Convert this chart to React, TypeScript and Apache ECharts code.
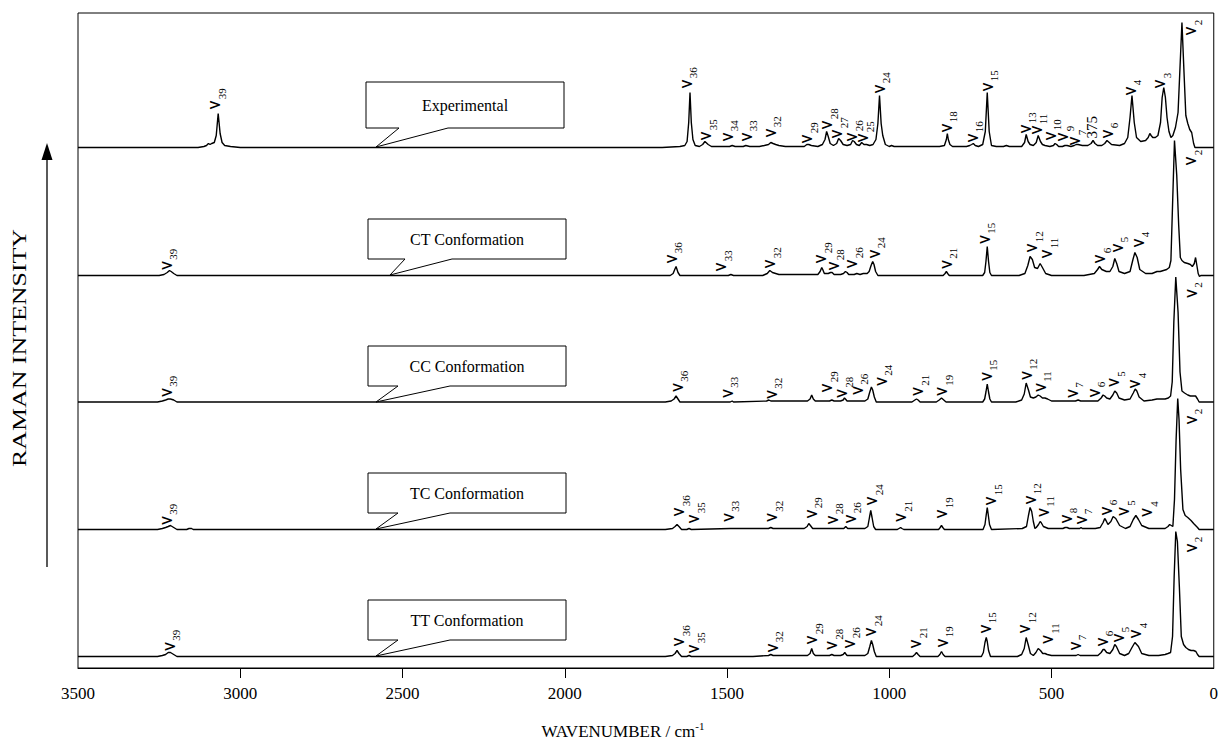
import React, { useEffect, useRef } from 'react';
import * as echarts from 'echarts';

// ---------- axis ----------
const WN_MIN = 0;
const WN_MAX = 3500;
const WN_STEP = 500;
const INNER_TICKS = [500, 1000, 1500, 2000, 2500, 3000];

// ---------- spectra names & vertical offsets (stack) ----------
const SPECTRUM_NAMES = ['Experimental', 'CT Conformation', 'CC Conformation', 'TC Conformation', 'TT Conformation'];
const SPECTRUM_OFFSETS = [520.5, 392.5, 266, 138.5, 11.5];

// ---------- spectra: [wavenumber, intensity] ----------
const EXPERIMENTAL: number[][] = [
  [0,0],[58,0],[62,4],[68,15],[74,18],[80,24],[86,32],[91,70],[98,125],[104,80],[110,35],[118,20],[126,12],[132,10],[138,16],[144,30],[149,50],[154,60],[159,50],[164,25],[172,12],[180,10],[188,10],[193,12],[197,14],[202,10],[210,7],[225,6],[238,10],[245,25],[252,52],[258,30],[265,10],[275,4],[290,2],[315,3],[322,5],[329,7],[336,4],[345,2],[358,2],[366,4],[372,7],[378,4],[388,2],[405,2],[418,3],[424,3],[430,2],[440,1],[452,2],[459,2],[466,1],[478,1],[484,3],[489,4],[494,2],[505,1],[520,2],[528,3],[534,6],[541,12],[547,5],[556,2],[566,3],[572,6],[578,13],[583,5],[592,1],[610,1],[630,1],[639,2],[648,1],[670,1],[685,2],[692,16],[698,55],[704,16],[712,3],[725,1],[735,2],[741,4],[746,3],[752,2],[762,1],[805,1],[813,3],[818,8],[821,14],[824,8],[830,2],[845,1],[900,1],[985,1],[993,2],[1000,1],[1012,3],[1020,12],[1025,24],[1030,52],[1035,24],[1041,8],[1050,3],[1060,2],[1070,3],[1078,3],[1085,5],[1092,2],[1101,3],[1108,6],[1113,7],[1119,3],[1130,2],[1142,3],[1150,7],[1156,9],[1162,4],[1172,2],[1182,4],[1188,11],[1193,16],[1198,8],[1206,3],[1220,1],[1240,2],[1248,3],[1254,3],[1262,1],[1290,1],[1320,1],[1340,2],[1350,3],[1358,4],[1365,5],[1372,3],[1385,2],[1400,1],[1430,1],[1442,2],[1450,1],[1475,1],[1484,2],[1492,1],[1530,1],[1548,1],[1558,3],[1568,6],[1575,3],[1585,1],[1598,2],[1605,8],[1610,25],[1614,55],[1618,25],[1623,6],[1630,2],[1645,1],[1700,0],[3000,0],[3030,1],[3048,2],[3056,5],[3062,14],[3068,34],[3074,12],[3080,5],[3088,4],[3093,3],[3098,4],[3104,2],[3112,1],[3130,0],[3500,0]
];

const CT_CONF: number[][] = [
  [0,0],[40,0],[44,-1],[48,2],[52,10],[56,18],[60,12],[66,9],[72,11],[80,12],[91,13],[98,15],[103,18],[108,50],[114,100],[121,135],[127,70],[132,15],[137,8],[145,6],[155,5],[165,4],[175,4],[190,2],[210,2],[228,6],[236,18],[243,23],[249,16],[258,4],[275,2],[292,4],[299,12],[305,17],[311,9],[320,4],[331,4],[345,6],[352,9],[358,6],[368,2],[400,0],[500,0],[518,2],[528,8],[535,12],[543,7],[552,8],[559,16],[566,19],[573,10],[582,2],[600,0],[685,0],[690,3],[694,14],[698,29],[702,14],[706,3],[712,0],[815,0],[820,2],[824,4],[828,2],[834,0],[1035,0],[1042,4],[1047,11],[1051,14],[1056,10],[1062,4],[1068,2],[1080,2],[1090,1],[1100,2],[1108,1],[1125,1],[1130,3],[1135,4],[1141,2],[1150,1],[1170,1],[1176,3],[1181,3],[1188,2],[1200,2],[1205,6],[1208,8],[1213,4],[1220,1],[1270,1],[1300,1],[1340,1],[1360,3],[1368,5],[1376,2],[1390,0],[1480,0],[1488,1],[1496,0],[1645,0],[1651,3],[1655,7],[1657,9],[1661,6],[1666,2],[1675,0],[3195,0],[3205,2],[3213,4],[3218,5],[3225,3],[3235,1],[3250,0],[3500,0]
];

const CC_CONF: number[][] = [
  [0,0],[45,0],[50,3],[56,6],[62,6],[72,6],[80,7],[90,9],[98,11],[104,30],[110,90],[117,125],[123,80],[128,20],[133,6],[140,4],[150,3],[160,3],[175,3],[190,2],[215,1],[230,5],[237,11],[242,13],[248,9],[258,3],[275,2],[292,4],[299,9],[305,11],[311,7],[320,3],[330,4],[336,6],[341,7],[347,4],[357,1],[380,1],[410,1],[418,2],[426,1],[460,1],[500,1],[512,3],[520,4],[528,4],[535,6],[541,7],[548,5],[556,4],[565,5],[571,12],[578,19],[584,8],[592,2],[610,0],[685,0],[690,3],[694,10],[698,18],[702,10],[706,3],[712,0],[825,0],[832,2],[839,4],[846,2],[855,0],[905,0],[911,2],[916,3],[921,2],[930,0],[1040,0],[1046,5],[1051,12],[1055,15],[1060,10],[1066,3],[1075,1],[1095,1],[1130,1],[1135,3],[1138,4],[1142,2],[1150,1],[1170,1],[1177,2],[1184,1],[1200,1],[1228,1],[1234,3],[1239,7],[1244,3],[1252,1],[1290,1],[1365,1],[1371,2],[1378,1],[1480,0],[1484,1],[1490,0],[1645,0],[1651,3],[1657,6],[1663,3],[1672,1],[1690,0],[3195,0],[3205,2],[3215,3],[3222,3],[3230,2],[3240,1],[3255,0],[3500,0]
];

const TC_CONF: number[][] = [
  [0,0],[45,0],[50,2],[56,4],[62,6],[70,9],[80,12],[88,14],[95,20],[102,60],[107,110],[111,131],[116,90],[121,30],[126,3],[131,4],[136,5],[141,3],[150,1],[175,1],[200,1],[222,4],[232,10],[240,14],[248,10],[258,3],[272,1],[290,4],[302,11],[310,13],[317,8],[326,5],[332,9],[336,11],[341,7],[350,2],[365,1],[400,1],[405,1],[409,2],[413,1],[445,1],[452,2],[458,2],[465,1],[510,1],[525,3],[532,7],[535,8],[540,5],[547,2],[551,1],[556,8],[561,18],[566,22],[571,14],[577,3],[590,1],[685,0],[691,5],[695,15],[698,22],[701,15],[705,5],[711,0],[830,0],[835,2],[839,4],[843,2],[848,0],[955,0],[961,1],[965,2],[970,1],[975,0],[1042,0],[1048,3],[1053,12],[1057,19],[1061,12],[1066,3],[1075,1],[1095,1],[1128,1],[1134,3],[1140,1],[1170,1],[1177,1],[1184,1],[1236,1],[1243,4],[1248,6],[1253,3],[1262,1],[1300,1],[1358,1],[1365,2],[1372,1],[1480,1],[1485,1],[1490,1],[1610,0],[1617,1],[1624,0],[1640,0],[1648,3],[1654,5],[1660,3],[1668,1],[1690,0],[3145,0],[3150,1],[3158,1],[3165,0],[3195,0],[3205,2],[3215,4],[3222,3],[3230,2],[3240,1],[3255,0],[3500,0]
];

const TT_CONF: number[][] = [
  [0,0],[45,0],[50,2],[55,5],[62,6],[70,6],[78,7],[86,9],[93,12],[100,20],[106,70],[112,115],[117,125],[122,80],[127,20],[133,4],[141,3],[150,2],[170,1],[200,1],[222,3],[232,10],[243,14],[252,9],[262,3],[275,1],[290,3],[300,10],[305,12],[311,7],[320,3],[330,4],[337,7],[341,7],[347,4],[357,1],[380,1],[412,1],[418,2],[424,1],[500,1],[513,2],[520,3],[527,3],[534,6],[541,8],[548,4],[556,1],[565,3],[572,12],[578,19],[584,8],[592,2],[605,0],[688,0],[694,6],[698,15],[701,19],[705,14],[710,4],[716,0],[828,0],[834,2],[839,5],[844,2],[850,0],[905,0],[911,2],[916,4],[921,2],[928,0],[1040,0],[1046,5],[1051,12],[1055,16],[1060,10],[1066,3],[1075,1],[1095,1],[1130,1],[1135,3],[1137,4],[1142,2],[1150,1],[1170,1],[1177,2],[1184,1],[1200,1],[1228,1],[1234,3],[1239,8],[1244,3],[1252,1],[1290,1],[1358,1],[1365,2],[1372,1],[1420,0],[1610,0],[1617,1],[1624,0],[1640,0],[1648,3],[1654,6],[1660,3],[1668,1],[1690,0],[3195,0],[3205,2],[3215,4],[3222,4],[3230,2],[3240,1],[3255,0],[3500,0]
];

const SPECTRA = [EXPERIMENTAL, CT_CONF, CC_CONF, TC_CONF, TT_CONF];

// ---------- band labels: [subscript, wavenumber, height above baseline] ----------
const EXP_LABELS: [string, number, number][] = [
  ['39',3082,38],['36',1629,59],['35',1569,7],['34',1503,6],['33',1443,6],['32',1370,10],['29',1257,4],['28',1196,18],['27',1165,9],['26',1118,6],['25',1085,5],['24',1034,54],['18',827,15],['16',748,5],['15',701,56],['13',584,14],['11',550,13],['10',507,7],['9',469,6],['7',432,2],['6',331,9],['4',261,52],['3',169,59],['2',74,112]
];
const EXP_PLAIN_LABELS: [string, number, number][] = [['375', 375, 9]];
const CT_LABELS: [string, number, number][] = [
  ['39',3231,5.5],['36',1675,12],['33',1523,4],['32',1372,7],['29',1214,12],['28',1175,5],['26',1118,7],['24',1049,17],['21',827,6.5],['15',711,31.5],['12',564,23],['11',518,17],['6',354,12],['5',301,23],['4',236,28],['2',74,110]
];
const CC_LABELS: [string, number, number][] = [
  ['39',3231,5],['36',1657,10],['33',1503,4],['32',1367,3],['29',1196,9.5],['28',1150,4],['26',1102,7],['24',1027,16],['21',916,6],['19',842,6],['15',704,21],['12',581,22],['11',538,10],['7',439,4],['6',372,4.5],['5',311,15],['4',246,13.5],['2',72,104]
];
const TC_LABELS: [string, number, number][] = [
  ['39',3231,4.5],['36',1652,13],['35',1606,6],['33',1499,7.6],['32',1365,7.6],['29',1244,11],['28',1179,5],['26',1124,6],['24',1057,24],['21',967,7.6],['19',842,11],['15',691,24],['12',568,25],['11',528,12.6],['8',458,6],['7',411,5],['6',335,14],['5',281,13.6],['4',210,12.6],['2',72,105]
];
const TT_LABELS: [string, number, number][] = [
  ['39',3222,5.5],['36',1652,10],['35',1606,3],['32',1363,4],['29',1242,12],['28',1180,6.5],['26',1126,8],['24',1060,20],['21',922,8],['19',840,9],['15',707,23],['12',586,23],['11',515,12.5],['7',430,6],['6',346,10],['5',298,14],['4',243,18],['2',72,104]
];
const BAND_LABELS = [EXP_LABELS, CT_LABELS, CC_LABELS, TC_LABELS, TT_LABELS];

// ---------- callouts (pixel boxes) ----------
const CALLOUT_BOXES = [
  { l: 366, t: 82, r: 564, b: 128, a: 399, c: 448, tx: 376, ty: 147 },
  { l: 368, t: 219, r: 566, b: 259, a: 405, c: 452, tx: 390, ty: 275 },
  { l: 368, t: 346, r: 566, b: 386, a: 398, c: 450, tx: 376, ty: 402 },
  { l: 368, t: 473, r: 566, b: 513, a: 398, c: 450, tx: 376, ty: 529 },
  { l: 368, t: 600, r: 566, b: 640, a: 398, c: 450, tx: 376, ty: 656 },
];

const SERIF = '"Liberation Serif", "Times New Roman", serif';

export default function App() {
  const ref = useRef<HTMLDivElement>(null);
  useEffect(() => {
    if (!ref.current) return;
    const chart = echarts.init(ref.current, null, { renderer: 'svg' });

    const labelItems: { text: string; plain: boolean; wn: number; y: number }[] = [];
    BAND_LABELS.forEach((arr, i) => {
      arr.forEach(([s, wn, h]) => labelItems.push({ text: s, plain: false, wn, y: h + SPECTRUM_OFFSETS[i] }));
    });
    EXP_PLAIN_LABELS.forEach(([s, wn, h]) => labelItems.push({ text: s, plain: true, wn, y: h + SPECTRUM_OFFSETS[0] }));

    const lineSeries = SPECTRA.map((pts, i) => ({
      type: 'line',
      name: SPECTRUM_NAMES[i],
      data: pts.map(([x, y]) => [x, y + SPECTRUM_OFFSETS[i]]),
      showSymbol: false,
      symbol: 'none',
      smooth: false,
      lineStyle: { color: '#000', width: 1.4 },
      silent: true,
      z: 2,
    }));

    const rich = {
      n: { fontFamily: 'Roboto, "Liberation Sans", sans-serif', fontSize: 19, fill: '#000' },
      s: { fontFamily: SERIF, fontSize: 11, fill: '#000', padding: [16, 0, 0, 1] },
      p: { fontFamily: SERIF, fontSize: 15, fill: '#000' },
    };

    const labelSeries = {
      type: 'custom',
      data: labelItems.map((l) => [l.wn, l.y]),
      encode: { x: 0, y: 1 },
      silent: true,
      clip: false,
      z: 3,
      renderItem: (params: any, api: any) => {
        const item = labelItems[params.dataIndex];
        const p = api.coord([api.value(0), api.value(1)]);
        return {
          type: 'text',
          x: p[0],
          y: p[1],
          rotation: Math.PI / 2,
          style: {
            text: item.plain ? `{p|${item.text}}` : `{n|ν}{s|${item.text}}`,
            rich,
            align: 'left',
            verticalAlign: 'middle',
            fill: '#000',
          },
        };
      },
    };

    const graphics: any[] = [];
    CALLOUT_BOXES.forEach((b, i) => {
      graphics.push({
        type: 'polygon',
        shape: { points: [[b.l, b.t], [b.r, b.t], [b.r, b.b], [b.c, b.b], [b.tx, b.ty], [b.a, b.b], [b.l, b.b]] },
        style: { fill: '#fff', stroke: '#000', lineWidth: 1 },
        z: 10,
      });
      graphics.push({
        type: 'text',
        x: (b.l + b.r) / 2,
        y: (b.t + b.b) / 2,
        style: { text: SPECTRUM_NAMES[i], fontFamily: SERIF, fontSize: 16, fill: '#000', align: 'center', verticalAlign: 'middle' },
        z: 11,
      });
    });
    graphics.push({
      type: 'text', x: 20, y: 348, rotation: Math.PI / 2, scaleX: 1.44,
      style: { text: 'RAMAN INTENSITY', fontFamily: SERIF, fontSize: 18, fill: '#000', align: 'center', verticalAlign: 'middle' },
    });
    graphics.push({
      type: 'text', x: 623, y: 731,
      style: {
        text: '{a|WAVENUMBER / cm}{b|-1}',
        align: 'center', verticalAlign: 'middle',
        rich: {
          a: { fontFamily: SERIF, fontSize: 17, fill: '#000' },
          b: { fontFamily: SERIF, fontSize: 11, fill: '#000', padding: [0, 0, 10, 0] },
        },
      },
    });
    graphics.push({ type: 'line', shape: { x1: 47, y1: 567, x2: 47, y2: 158 }, style: { stroke: '#000', lineWidth: 1.3 } });
    graphics.push({ type: 'polygon', shape: { points: [[47, 143], [41.5, 160], [52.5, 160]] }, style: { fill: '#000' } });

    chart.setOption({
      animation: false,
      grid: { left: 78, right: 5, top: 13, bottom: 76, show: true, borderColor: '#000', borderWidth: 1, backgroundColor: 'transparent' },
      xAxis: {
        type: 'value',
        min: WN_MIN,
        max: WN_MAX,
        interval: WN_STEP,
        inverse: true,
        axisLine: { show: true, lineStyle: { color: '#000', width: 1 } },
        axisTick: { show: true, inside: false, length: 10, lineStyle: { color: '#000', width: 1 }, customValues: INNER_TICKS },
        axisLabel: { color: '#000', fontFamily: SERIF, fontSize: 17, margin: 17, formatter: (v: number) => String(v) },
        splitLine: { show: false },
      },
      yAxis: { type: 'value', min: 0, max: 655, show: false },
      series: [...lineSeries, labelSeries],
      graphic: graphics,
    });
    return () => chart.dispose();
  }, []);
  return <div ref={ref} style={{ position: 'fixed', left: 0, top: 0, width: 1221, height: 744, background: '#fff' }} />;
}
